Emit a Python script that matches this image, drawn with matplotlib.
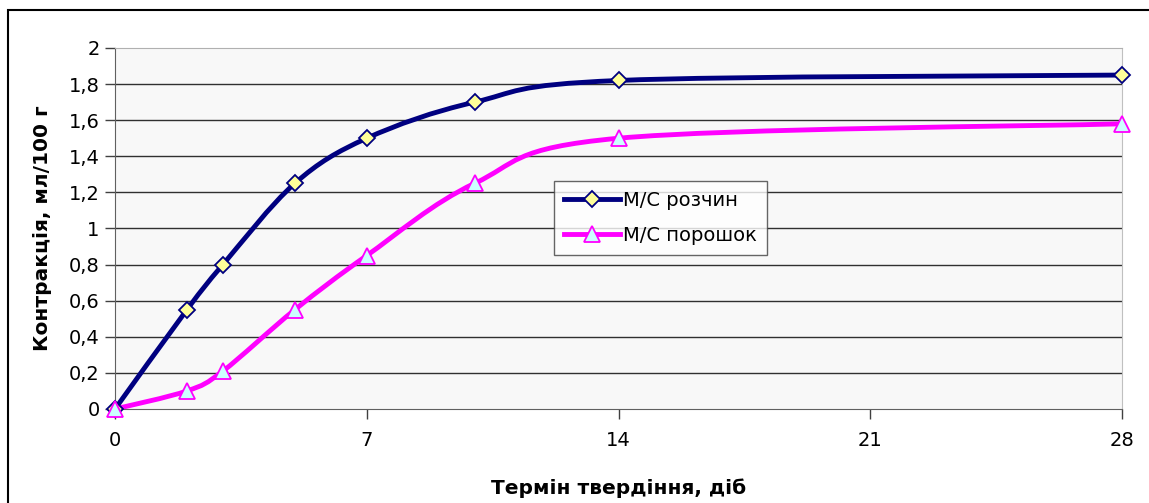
import numpy as np
import matplotlib.pyplot as plt
from matplotlib.path import Path
from matplotlib.patches import PathPatch, Rectangle
from matplotlib.lines import Line2D

# the original chart is stretched sideways, DejaVu (wider) matches it better than Arial
plt.rcParams['font.family'] = ['DejaVu Sans']

# data
days = [0, 2, 3, 5, 7, 10, 14, 28]
solution = [0, 0.55, 0.80, 1.25, 1.50, 1.70, 1.82, 1.85]
powder = [0, 0.10, 0.21, 0.55, 0.85, 1.25, 1.50, 1.58]
series_names = ['М/С розчин', 'М/С порошок']
x_ticks = [0, 7, 14, 21, 28]
y_ticks = [0, 0.2, 0.4, 0.6, 0.8, 1, 1.2, 1.4, 1.6, 1.8, 2]


def smooth_path(x, y):
    # excel-like smoothed line: catmull-rom through the points as cubic beziers
    pts = np.column_stack([x, y]).astype(float)
    ext = np.vstack([pts[0], pts, pts[-1]])
    verts = [pts[0]]
    codes = [Path.MOVETO]
    for i in range(1, len(ext) - 2):
        p0, p1, p2, p3 = ext[i - 1], ext[i], ext[i + 1], ext[i + 2]
        verts += [p1 + (p2 - p0) / 6, p2 - (p3 - p1) / 6, p2]
        codes += [Path.CURVE4] * 3
    return Path(verts, codes)


fig = plt.figure(figsize=(11.49, 5.03), dpi=100)
ax = fig.add_axes([0.1001, 0.1869, 0.8764, 0.7177])
ax.set_facecolor('#F8F8F8')

# outer chart frame (cut at right and bottom)
fig.patches.append(Rectangle((8 / 1149, -0.1), 1.2, 1.08, transform=fig.transFigure,
                             fill=False, edgecolor='black', linewidth=1.5))

for v in y_ticks[1:-1]:
    ax.axhline(v, color='#303030', linewidth=1, zorder=1)

styles = [
    dict(color='#000080', marker='D', mfc='#FFFF99', mec='#000080', ms=8),
    dict(color='#FF00FF', marker='^', mfc='#CCFFFF', mec='#FF00FF', ms=11),
]
handles = []
for yv, name, st in zip([solution, powder], series_names, styles):
    ax.add_patch(PathPatch(smooth_path(days, yv), fill=False, edgecolor=st['color'],
                           linewidth=3.5, zorder=3, capstyle='round', joinstyle='round'))
    ax.plot(days, yv, linestyle='none', marker=st['marker'], ms=st['ms'],
            mfc=st['mfc'], mec=st['mec'], mew=1.3, zorder=4, clip_on=False)
    handles.append(Line2D([], [], color=st['color'], linewidth=3.5, marker=st['marker'],
                          ms=st['ms'], mfc=st['mfc'], mec=st['mec'], mew=1.3))

ax.set_xlim(0, 28)
ax.set_ylim(0, 2)
ax.set_xticks(x_ticks)
ax.set_xticklabels([str(t) for t in x_ticks])
ax.set_yticks(y_ticks)
ax.set_yticklabels([('%g' % t).replace('.', ',') for t in y_ticks])
ax.tick_params(axis='both', labelsize=14, color='#404040', length=7, width=1)
ax.tick_params(axis='x', pad=9)
ax.tick_params(axis='y', pad=4)

ax.spines['left'].set_color('#606060')
ax.spines['bottom'].set_color('#606060')
ax.spines['top'].set_color('#B0B0B0')
ax.spines['right'].set_color('#C0C0C0')

ax.set_xlabel('Термін твердіння, діб', fontsize=14.5, fontweight='bold', labelpad=20)
ax.set_ylabel('Контракція, мл/100 г', fontsize=14.5, fontweight='bold', labelpad=12)

leg = ax.legend(handles, series_names, loc='upper left',
                bbox_to_anchor=(554 / 1149, 1 - 181 / 503), bbox_transform=fig.transFigure,
                fontsize=14, frameon=True, fancybox=False, handlelength=2.9,
                borderpad=0.5, borderaxespad=0, labelspacing=0.85, handletextpad=0.15)
leg.get_frame().set_edgecolor('#404040')
leg.get_frame().set_linewidth(1)
leg.set_zorder(5)

fig.savefig('out.png', dpi=100)
